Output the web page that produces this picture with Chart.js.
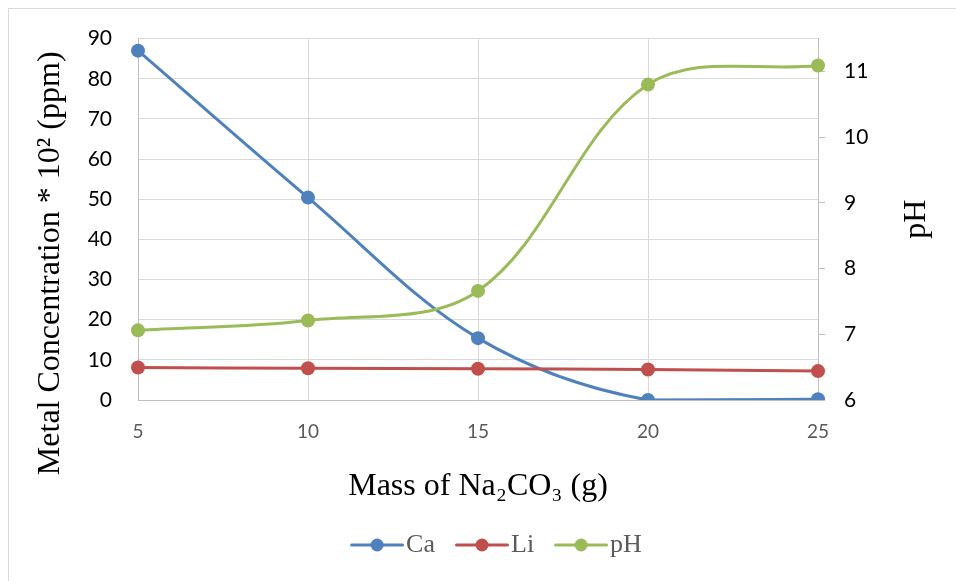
<!DOCTYPE html>
<html>
<head>
<meta charset="utf-8">
<script src="https://cdn.jsdelivr.net/npm/chart.js@4.4.0/dist/chart.umd.min.js"></script>
<style>
html,body{margin:0;padding:0;background:#fff;}
#wrap{position:relative;width:956px;height:581px;}
</style>
</head>
<body>
<div id="wrap"><canvas id="c" width="956" height="581"></canvas></div>
<script>
// ---- data ----
const categories = ['5', '10', '15', '20', '25'];
const caValues = [87.0, 50.4, 15.4, 0.0, 0.2];
const liValues = [8.1, 7.9, 7.8, 7.6, 7.2];
const phValues = [7.06, 7.21, 7.66, 10.80, 11.09];
const seriesNames = ['Ca', 'Li', 'pH'];
const seriesColors = ['#4f81bd', '#c0504d', '#9bbb59'];
const leftAxisRange = [0, 90, 10];
const rightAxisRange = [6, 11.5, 1];
const xTitle = 'Mass of Na\u2082CO\u2083 (g)';
const yTitle = 'Metal Concentration * 10\u00b2 (ppm)';
const y1Title = 'pH';

function makeIcon(color) {
  const c = document.createElement('canvas');
  c.width = 73; c.height = 16;
  const g = c.getContext('2d');
  g.strokeStyle = color; g.lineWidth = 3; g.lineCap = 'round';
  g.beginPath(); g.moveTo(20.5, 8); g.lineTo(71.5, 8); g.stroke();
  g.fillStyle = color;
  g.beginPath(); g.arc(46, 8, 6.5, 0, Math.PI * 2); g.fill();
  return c;
}
const icons = seriesColors.map(makeIcon);

const frame = {
  id: 'frame',
  beforeDraw(chart) {
    const ctx = chart.ctx;
    ctx.save();
    ctx.strokeStyle = '#d9d9d9'; ctx.lineWidth = 1;
    ctx.beginPath(); ctx.moveTo(8.5, 581); ctx.lineTo(8.5, 8.5); ctx.lineTo(956, 8.5); ctx.stroke();
    ctx.restore();
  },
  afterDraw(chart) {
    const ctx = chart.ctx;
    const a = chart.chartArea;
    ctx.save();
    ctx.font = '32px "Liberation Serif"';
    ctx.fillStyle = '#000';
    ctx.textAlign = 'center';
    ctx.textBaseline = 'middle';
    ctx.translate(917, (a.top + a.bottom) / 2);
    ctx.rotate(-Math.PI / 2);
    ctx.fillText(y1Title, 0, 0);
    ctx.restore();
  }
};

const ds = (label, data, color, axis, order) => ({
  label, data, yAxisID: axis, order,
  borderColor: color, backgroundColor: color,
  borderWidth: 3, pointRadius: 7, pointHoverRadius: 7,
  pointBackgroundColor: color, pointBorderColor: color, pointBorderWidth: 0,
  tension: 0.35, fill: false
});

new Chart(document.getElementById('c'), {
  type: 'line',
  data: {
    labels: categories,
    datasets: [
      ds(seriesNames[0], caValues, seriesColors[0], 'y', 3),
      ds(seriesNames[1], liValues, seriesColors[1], 'y', 2),
      ds(seriesNames[2], phValues, seriesColors[2], 'y1', 1)
    ]
  },
  options: {
    responsive: false,
    animation: false,
    devicePixelRatio: 1,
    layout: { padding: { left: 28, right: 0, top: 37, bottom: 13 } },
    plugins: {
      tooltip: { enabled: false },
      legend: {
        position: 'bottom',
        labels: {
          font: { family: '"Liberation Serif"', size: 26 },
          color: '#595959',
          usePointStyle: true,
          pointStyleWidth: 51,
          padding: 12,
          generateLabels(chart) {
            return chart.data.datasets.map((d, i) => ({
              text: d.label, fillStyle: d.borderColor, strokeStyle: d.borderColor,
              lineWidth: 0, pointStyle: icons[i], hidden: !chart.isDatasetVisible(i),
              datasetIndex: i, fontColor: '#595959'
            }));
          }
        }
      }
    },
    scales: {
      x: {
        type: 'category',
        offset: false,
        grid: { color: '#d9d9d9', lineWidth: 1, drawTicks: false },
        border: { color: '#bfbfbf', width: 1 },
        ticks: { font: { family: 'Lato', size: 19 }, color: '#595959', padding: 20, maxRotation: 0 },
        title: { display: true, text: xTitle, font: { family: '"Liberation Serif"', size: 32 }, color: '#000', padding: { top: 0, bottom: 14 } },
        afterFit(s) { s.height = 120; }
      },
      y: {
        position: 'left',
        min: leftAxisRange[0], max: leftAxisRange[1],
        ticks: { stepSize: leftAxisRange[2], font: { family: 'Lato', size: 21 }, color: '#000', padding: 26 },
        grid: { color: '#d9d9d9', lineWidth: 1, drawTicks: false },
        border: { color: '#bfbfbf', width: 1 },
        title: { display: true, text: yTitle + '\u00a0\u00a0\u00a0\u00a0\u00a0\u00a0\u00a0\u00a0\u00a0\u00a0\u00a0', font: { family: '"Liberation Serif"', size: 32 }, color: '#000', padding: { top: 3, bottom: 0 } },
        afterFit(s) { s.width = 110; }
      },
      y1: {
        position: 'right',
        min: rightAxisRange[0], max: rightAxisRange[1],
        ticks: { stepSize: rightAxisRange[2], includeBounds: false, font: { family: 'Lato', size: 21 }, color: '#000', padding: 19 },
        grid: { drawOnChartArea: false, drawTicks: true, tickLength: 7, color: '#bfbfbf' },
        border: { color: '#bfbfbf', width: 1 },
        afterFit(s) { s.width = 138; }
      }
    }
  },
  plugins: [frame]
});
</script>
</body>
</html>
